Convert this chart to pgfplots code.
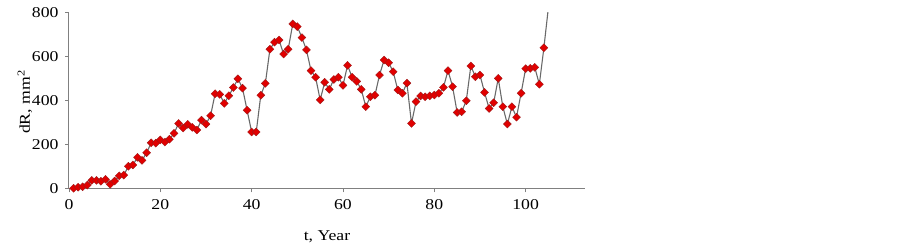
\documentclass[border=0pt]{standalone}
\usepackage{fontspec}
\setmainfont{Liberation Serif}[FakeStretch=1.18]
\usepackage{pgfplots}
\pgfplotsset{compat=1.18}
\definecolor{mkred}{RGB}{225,0,0}
\definecolor{mkedge}{RGB}{160,25,25}
\definecolor{linegray}{RGB}{105,105,105}
\definecolor{axgray}{RGB}{128,128,128}
\begin{document}
\begin{tikzpicture}[x=1pt,y=1pt]
\path[use as bounding box] (0,0) rectangle (902,250);
\begin{axis}[
  at={(69pt,61.7pt)}, anchor=south west,
  scale only axis, width=516pt, height=176pt,
  xmin=0, xmax=113, ymin=0, ymax=800,
  axis lines=left, axis line style={axgray, line width=1pt, -},
  xtick={0,20,40,60,80,100}, ytick={0,200,400,600,800},
  tick align=outside, major tick length=4pt,
  tick style={axgray, line width=0.8pt},
  font=\fontsize{15}{18}\selectfont,
  /pgf/number format/assume math mode=true,
  xticklabel style={yshift=-4pt},
  yticklabel style={xshift=-3pt},
  xlabel={t, Year}, ylabel={dR, mm\textsuperscript{2}},
  xlabel style={at={(axis description cs:0.5,-0.2767)}, anchor=center},
  ylabel style={at={(axis description cs:-0.0853,0.49)}, anchor=center},
  clip=true,
]
\addplot[color=linegray, line width=1.1pt, mark=square*, mark size=2.8pt,
  mark options={fill=mkred, draw=mkedge, line width=0.4pt, rotate=45}] coordinates {
(1,0) (2,5) (3,7) (4,14) (5,36) (6,36) (7,32) (8,41) (9,18) (10,33)
(11,57) (12,60) (13,100) (14,106) (15,141) (16,127) (17,162) (18,207) (19,205) (20,220)
(21,210) (22,223) (23,250) (24,295) (25,274) (26,291) (27,277) (28,265) (29,310) (30,292)
(31,330) (32,430) (33,427) (34,386) (35,421) (36,458) (37,498) (38,455) (39,355) (40,256)
(41,256) (42,423) (43,477) (44,632) (45,664) (46,674) (47,610) (48,632) (49,747) (50,735)
(51,685) (52,629) (53,535) (54,505) (55,402) (56,482) (57,450) (58,495) (59,505) (60,468)
(61,559) (62,505) (63,486) (64,450) (65,371) (66,416) (67,423) (68,515) (69,583) (70,571)
(71,530) (72,447) (73,432) (74,478) (75,295) (76,394) (77,420) (78,416) (79,420) (80,424)
(81,432) (82,459) (83,535) (84,462) (85,345) (86,348) (87,398) (88,556) (89,507) (90,515)
(91,436) (92,363) (93,389) (94,500) (95,371) (96,292) (97,371) (98,323) (99,432) (100,544)
(101,545) (102,550) (103,473) (104,639) (105,825)
};
\end{axis}
\end{tikzpicture}
\end{document}
